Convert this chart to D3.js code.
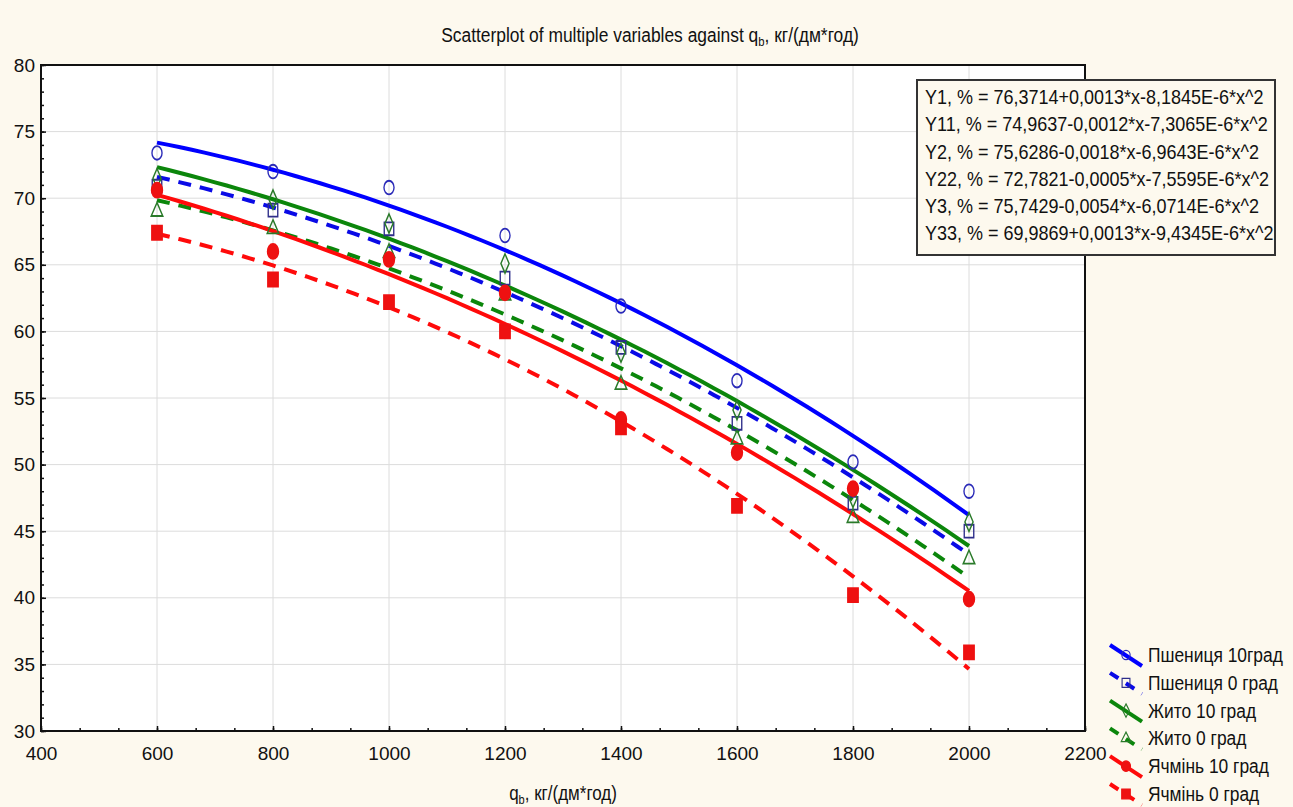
<!DOCTYPE html>
<html>
<head>
<meta charset="utf-8">
<script src="https://cdn.jsdelivr.net/npm/d3@7"></script>
<style>
  body { margin: 0; background: #fdf9ee; }
  svg text { font-family: "Liberation Sans", Arial, sans-serif; fill: #111; }
</style>
</head>
<body>
<div class="chart"></div>
<script>
// q_b values (x) and measured points for each crop / temperature
const xValues = [600, 800, 1000, 1200, 1400, 1600, 1800, 2000];
const wheat10 = [73.4, 72.0, 70.8, 67.2, 61.9, 56.3, 50.2, 48.0];
const wheat0 = [70.9, 69.1, 67.7, 64.0, 58.8, 53.1, 47.1, 45.0];
const rye10 = [71.5, 69.9, 68.1, 65.1, 58.4, 54.1, 47.5, 45.7];
const rye0 = [69.0, 67.7, 65.9, 62.7, 56.0, 51.9, 46.0, 42.9];
const barley10 = [70.6, 66.0, 65.4, 62.9, 53.4, 50.9, 48.2, 39.9];
const barley0 = [67.4, 63.9, 62.2, 60.0, 52.8, 46.9, 40.2, 35.9];

const seriesNames = ["Пшениця 10град", "Пшениця 0 град", "Жито 10 град", "Жито 0 град", "Ячмінь 10 град", "Ячмінь 0 град"];
const equations = [
  "Y1, % = 76,3714+0,0013*x-8,1845E-6*x^2",
  "Y11, % = 74,9637-0,0012*x-7,3065E-6*x^2",
  "Y2, % = 75,6286-0,0018*x-6,9643E-6*x^2",
  "Y22, % = 72,7821-0,0005*x-7,5595E-6*x^2",
  "Y3, % = 75,7429-0,0054*x-6,0714E-6*x^2",
  "Y33, % = 69,9869+0,0013*x-9,4345E-6*x^2"
];
const xTicks = [400, 600, 800, 1000, 1200, 1400, 1600, 1800, 2000, 2200];
const yTicks = [30, 35, 40, 45, 50, 55, 60, 65, 70, 75, 80];

const styles = [
  { color: "#0000ff", mark: "#2a2ab8", dash: null, symbol: "circle", filled: false },
  { color: "#0a0ae6", mark: "#2e2e8a", dash: "13,9", symbol: "square", filled: false },
  { color: "#0b860b", mark: "#2a7a2a", dash: null, symbol: "diamond", filled: false },
  { color: "#0b860b", mark: "#2a7a2a", dash: "13,9", symbol: "triangle", filled: false },
  { color: "#ff0a0a", mark: "#ee1111", dash: null, symbol: "circle", filled: true },
  { color: "#ff0a0a", mark: "#ee1111", dash: "13,9", symbol: "square", filled: true }
];

const seriesValues = [wheat10, wheat0, rye10, rye0, barley10, barley0];

// least squares quadratic fit, x scaled by 1000 for stability
function quadFit(xs, ys) {
  let s = [0, 0, 0, 0, 0], t = [0, 0, 0];
  xs.forEach((x0, i) => {
    const x = x0 / 1000;
    for (let k = 0; k < 5; k++) s[k] += Math.pow(x, k);
    for (let k = 0; k < 3; k++) t[k] += ys[i] * Math.pow(x, k);
  });
  const A = [[s[0], s[1], s[2], t[0]], [s[1], s[2], s[3], t[1]], [s[2], s[3], s[4], t[2]]];
  for (let c = 0; c < 3; c++) {
    for (let r = c + 1; r < 3; r++) {
      const f = A[r][c] / A[c][c];
      for (let k = c; k < 4; k++) A[r][k] -= f * A[c][k];
    }
  }
  const b = [0, 0, 0];
  for (let r = 2; r >= 0; r--) {
    let v = A[r][3];
    for (let k = r + 1; k < 3; k++) v -= A[r][k] * b[k];
    b[r] = v / A[r][r];
  }
  return (x0) => { const x = x0 / 1000; return b[0] + b[1] * x + b[2] * x * x; };
}

const W = 1293, H = 807;
const margin = { top: 65, right: 208, bottom: 76, left: 41 };
const width = W - margin.left - margin.right;
const height = H - margin.top - margin.bottom;

const svg = d3.select(".chart").append("svg").attr("width", W).attr("height", H);
svg.append("rect").attr("width", W).attr("height", H).attr("fill", "#fdf9ee");

const g = svg.append("g").attr("transform", `translate(${margin.left},${margin.top})`);

const x = d3.scaleLinear().domain([400, 2200]).range([0, width]);
const y = d3.scaleLinear().domain([30, 80]).range([height, 0]);

g.append("rect").attr("width", width).attr("height", height).attr("fill", "#fff");

// grid
g.append("g").selectAll("line").data(xTicks.slice(1, -1)).join("line")
  .attr("x1", d => x(d)).attr("x2", d => x(d)).attr("y1", 0).attr("y2", height)
  .attr("stroke", "#dcdcdc").attr("stroke-width", 1);
g.append("g").selectAll("line").data(yTicks.slice(1, -1)).join("line")
  .attr("y1", d => y(d)).attr("y2", d => y(d)).attr("x1", 0).attr("x2", width)
  .attr("stroke", "#dcdcdc").attr("stroke-width", 1);

// fitted curves
const line = d3.line().x(d => x(d[0])).y(d => y(d[1]));
const xs = d3.range(xValues[0], xValues[xValues.length - 1] + 1, 20);
seriesValues.forEach((vals, i) => {
  const f = quadFit(xValues, vals);
  g.append("path")
    .datum(xs.map(v => [v, f(v)]))
    .attr("fill", "none")
    .attr("stroke", styles[i].color)
    .attr("stroke-width", 4)
    .attr("stroke-dasharray", styles[i].dash)
    .attr("d", line);
});

// markers
const symbolTypes = { circle: d3.symbolCircle, square: d3.symbolSquare, diamond: d3.symbolDiamond, triangle: d3.symbolTriangle };
const symbolSizes = { circle: 110, square: 125, diamond: 80, triangle: 80 };
function drawMarker(sel, st) {
  sel.append("path")
    .attr("d", d3.symbol().type(symbolTypes[st.symbol]).size(symbolSizes[st.symbol] * (st.filled ? 1.2 : 1))())
    .attr("fill", st.filled ? st.mark : "none")
    .attr("stroke", st.mark)
    .attr("stroke-width", 1.6);
}
seriesValues.forEach((vals, i) => {
  vals.forEach((v, j) => {
    const m = g.append("g").attr("transform", `translate(${x(xValues[j])},${y(v)}) scale(0.85,1.15)`);
    drawMarker(m, styles[i]);
  });
});

// frame
g.append("rect").attr("width", width).attr("height", height)
  .attr("fill", "none").attr("stroke", "#111").attr("stroke-width", 2);

// axes: minor ticks then major ticks with labels
g.append("g").attr("transform", `translate(0,${height})`)
  .call(d3.axisBottom(x).tickValues(d3.range(400, 2201, 200 / 3)).tickSize(-3).tickFormat(""))
  .call(s => s.select(".domain").remove());
const xAxis = g.append("g").attr("transform", `translate(0,${height})`)
  .call(d3.axisBottom(x).tickValues(xTicks).tickSize(-5).tickPadding(16).tickFormat(d3.format("d")));
xAxis.select(".domain").remove();
xAxis.selectAll("text").attr("font-size", 19).attr("fill", "#111")
  .style("font-family", '"Liberation Sans Narrow", "Liberation Sans", sans-serif');

g.append("g")
  .call(d3.axisLeft(y).tickValues(d3.range(30, 81, 1)).tickSize(-3).tickFormat(""))
  .call(s => s.select(".domain").remove());
const yAxis = g.append("g")
  .call(d3.axisLeft(y).tickValues(yTicks).tickSize(-5).tickPadding(6));
yAxis.select(".domain").remove();
yAxis.selectAll("text").attr("font-size", 19).attr("fill", "#111");
g.selectAll(".tick line").attr("stroke", "#111").attr("stroke-width", 1.5);

// squeeze text horizontally like the original (scale around the anchor x)
function squeeze(sel, k) {
  sel.each(function () {
    const ax = +this.getAttribute("x");
    d3.select(this).attr("transform", `translate(${ax},0) scale(${k},1) translate(${-ax},0)`);
  });
}

// title
const title = svg.append("text").attr("x", 650).attr("y", 42).attr("text-anchor", "middle").attr("font-size", 20);
title.append("tspan").text("Scatterplot of multiple variables against q");
title.append("tspan").attr("font-size", 13).attr("dy", 4).text("b");
title.append("tspan").attr("dy", -4).text(", кг/(дм*год)");
squeeze(title, 0.87);

// x axis title
const xt = svg.append("text").attr("x", margin.left + width / 2).attr("y", 800).attr("text-anchor", "middle").attr("font-size", 20);
xt.append("tspan").text("q");
xt.append("tspan").attr("font-size", 13).attr("dy", 4).text("b");
xt.append("tspan").attr("dy", -4).text(", кг/(дм*год)");
squeeze(xt, 0.85);

// equation box
const box = svg.append("g").attr("transform", "translate(917,80)");
box.append("rect").attr("width", 358).attr("height", 175)
  .attr("fill", "#fdf9ee").attr("stroke", "#333").attr("stroke-width", 2);
const eqText = box.selectAll("text").data(equations).join("text")
  .attr("x", 8).attr("y", (d, i) => 24 + i * 27.3)
  .attr("font-size", 20).text(d => d);
squeeze(eqText, 0.9);

// series legend
const legend = svg.append("g").attr("transform", "translate(1110,655)");
seriesNames.forEach((name, i) => {
  const row = legend.append("g").attr("transform", `translate(0,${i * 27.8})`);
  row.append("line").attr("x1", 0).attr("y1", -10).attr("x2", 32).attr("y2", 11)
    .attr("stroke", styles[i].color).attr("stroke-width", 4)
    .attr("stroke-dasharray", styles[i].dash ? "10,9" : null);
  const m = row.append("g").attr("transform", "translate(16,0) scale(0.7,0.8)");
  drawMarker(m, styles[i]);
  const t = row.append("text").attr("x", 38).attr("y", 7).attr("font-size", 20).text(name);
  squeeze(t, 0.87);
});
</script>
</body>
</html>
